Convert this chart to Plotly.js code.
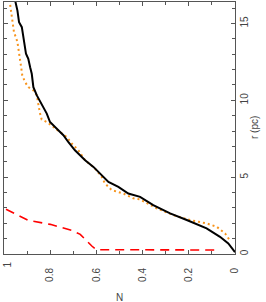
<!DOCTYPE html>
<html>
<head>
<meta charset="utf-8">
<script src="https://cdn.plot.ly/plotly-3.0.1.min.js"></script>
<style>html,body{margin:0;padding:0;background:#fff;}#chart{width:266px;height:302px;}</style>
</head>
<body>
<div id="chart"></div>
<script>
// Black solid curve: cumulative fraction N vs radius r (pc)
const blackN = [0.0, 0.029, 0.065, 0.123, 0.209, 0.281, 0.354, 0.411, 0.462, 0.505, 0.548, 0.584, 0.613, 0.649, 0.693, 0.722, 0.743, 0.765, 0.779, 0.801, 0.815, 0.830, 0.844, 0.858, 0.873, 0.876, 0.880, 0.887, 0.895, 0.905, 0.912, 0.916, 0.923, 0.935, 0.942, 0.952];
const blackR = [0.12, 0.69, 1.12, 1.67, 2.21, 2.64, 3.18, 3.72, 3.94, 4.37, 4.69, 5.24, 5.67, 6.10, 6.75, 7.29, 7.73, 8.05, 8.27, 8.59, 9.14, 9.56, 10.0, 10.32, 10.86, 11.3, 11.73, 12.16, 12.7, 13.03, 13.68, 14.33, 14.76, 15.08, 15.84, 16.5];
// Orange dotted curve
const orangeN = [0.026, 0.043, 0.079, 0.123, 0.195, 0.267, 0.339, 0.411, 0.440, 0.484, 0.534, 0.563, 0.577, 0.606, 0.649, 0.678, 0.707, 0.729, 0.758, 0.787, 0.815, 0.837, 0.844, 0.852, 0.858, 0.873, 0.895, 0.909, 0.921, 0.926, 0.931, 0.935, 0.942, 0.949, 0.957, 0.962, 0.967, 0.974];
const orangeR = [0.97, 1.34, 1.77, 1.99, 2.21, 2.53, 2.97, 3.55, 3.62, 3.94, 4.16, 4.59, 5.02, 5.56, 6.10, 6.75, 7.19, 7.62, 7.94, 8.27, 8.59, 8.75, 9.14, 9.79, 10.32, 10.65, 10.86, 11.19, 11.62, 12.16, 12.71, 13.25, 13.79, 14.11, 14.44, 14.98, 15.63, 16.28];
// Red dashed curve
const redN = [0.09, 0.60, 0.62, 0.67, 0.707, 0.80, 0.895, 0.945, 1.0];
const redR = [0.26, 0.28, 0.52, 1.28, 1.54, 1.93, 2.19, 2.58, 2.97];
// Tick labels (the edge label "1" is placed as an annotation so it stays inside the page)
const xTickVals = [0.8, 0.6, 0.4, 0.2, 0];
const xTickText = ['0.8', '0.6', '0.4', '0.2', '0'];
const xEdgeTickVal = 1;
const xEdgeTickText = '1';
const yTickVals = [0, 5, 10, 15];
const yTickText = ['0', '5', '10', '15'];

const fontFam = 'Liberation Sans, Arial, sans-serif';
const txtCol = '#444';

const traces = [
  {x: redN, y: redR, mode: 'lines', line: {color: '#ff0000', width: 1.6, dash: '9px,6px'}, hoverinfo: 'skip'},
  {x: orangeN, y: orangeR, mode: 'lines', line: {color: '#f7941d', width: 2, dash: '2px,3px'}, hoverinfo: 'skip'},
  {x: blackN, y: blackR, mode: 'lines', line: {color: '#000000', width: 2}, hoverinfo: 'skip'}
];

const layout = {
  width: 266, height: 302,
  margin: {l: 4, r: 31, t: 2, b: 48},
  paper_bgcolor: '#fff', plot_bgcolor: '#fff',
  showlegend: false,
  font: {family: fontFam, size: 10, color: txtCol},
  xaxis: {
    range: [1.0002, 0], showgrid: false, zeroline: false,
    showline: true, linecolor: '#555', linewidth: 1, mirror: 'ticks',
    ticks: 'inside', ticklen: 4, tickcolor: '#555',
    tickvals: xTickVals, ticktext: xTickText, tickangle: -90,
    ticklabelstandoff: 9, ticklabeloverflow: 'allow',
    tickfont: {family: fontFam, size: 10, color: txtCol},
    minor: {dtick: 0.1, ticks: 'inside', ticklen: 3, tickcolor: '#555'}
  },
  yaxis: {
    range: [0, 16.4], side: 'right', showgrid: false, zeroline: false,
    showline: true, linecolor: '#555', linewidth: 1, mirror: 'ticks',
    ticks: 'inside', ticklen: 4, tickcolor: '#555',
    tickvals: yTickVals, ticktext: yTickText, tickangle: -90,
    tickfont: {family: fontFam, size: 10, color: txtCol},
    minor: {dtick: 1, ticks: 'inside', ticklen: 3, tickcolor: '#555'}
  },
  annotations: [
    {text: xEdgeTickText, xref: 'x', yref: 'paper', x: xEdgeTickVal, y: 0, xanchor: 'left', yanchor: 'top',
     xshift: -4, yshift: -7, textangle: -90, borderpad: 0, showarrow: false,
     font: {family: fontFam, size: 10, color: txtCol}},
    {text: 'N', xref: 'paper', yref: 'paper', x: 0.502, y: 0, yanchor: 'middle', yshift: -43.5,
     showarrow: false, font: {family: fontFam, size: 10, color: txtCol}},
    {text: 'r (pc)', xref: 'paper', yref: 'paper', x: 1, y: 0.5, xanchor: 'center', yanchor: 'middle',
     xshift: 19, textangle: -90, showarrow: false, font: {family: fontFam, size: 10, color: txtCol}}
  ]
};

Plotly.newPlot('chart', traces, layout, {staticPlot: true, displayModeBar: false});
</script>
</body>
</html>
